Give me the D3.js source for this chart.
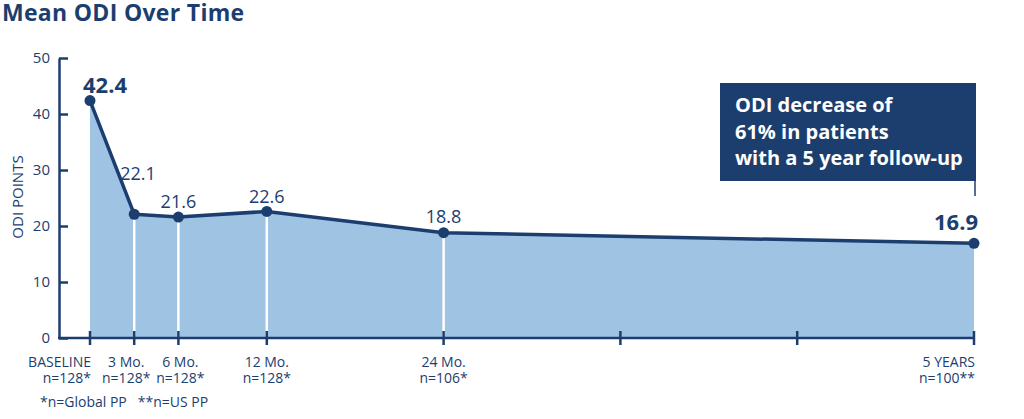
<!DOCTYPE html>
<html lang="en">

<head>
  <meta charset="UTF-8">
  <title>Mean ODI Over Time</title>
  <script src="https://d3js.org/d3.v7.min.js"></script>
  <style>
    body { margin: 0; background: #fff; }
    text { font-family: "Open Sans", sans-serif; }
  </style>
</head>

<body>
  <div id="container"></div>

  <script>
    // data
    var months = [0, 3, 6, 12, 24, 60];
    var odi = [42.4, 22.1, 21.6, 22.6, 18.8, 16.9];
    var timeLabels = ["BASELINE", "3 Mo.", "6 Mo.", "12 Mo.", "24 Mo.", "5 YEARS"];
    var nLabels = ["n=128*", "n=128*", "n=128*", "n=128*", "n=106*", "n=100**"];
    var extraTicks = [36, 48];
    var yTicks = [0, 10, 20, 30, 40, 50];
    var calloutLines = ["ODI decrease of", "61% in patients", "with a 5 year follow-up"];
    var title = "Mean ODI Over Time";
    var yTitle = "ODI POINTS";
    var footnote = "*n=Global PP   **n=US PP";

    var width = 1024,
      height = 419,
      navy = "#1c3e6e",
      fill = "#9fc3e3";

    var data = months.map(function (m, i) {
      return { month: m, value: odi[i], label: timeLabels[i], n: nLabels[i] };
    });

    var svg = d3.select("#container")
      .append("svg")
      .attr("width", width)
      .attr("height", height)

    var x = d3.scaleLinear().domain([0, 60]).range([90, 974]);
    var y = d3.scaleLinear().domain([0, 50]).range([338, 58]);
    var axisX = 59;

    // title
    svg.append("text")
      .attr("x", 2)
      .attr("y", 21)
      .attr("font-size", 23)
      .attr("font-weight", 700)
      .attr("letter-spacing", 0.3)
      .attr("fill", navy)
      .text(title)

    // area
    var area = d3.area()
      .x(function (d) { return x(d.month); })
      .y0(y(0))
      .y1(function (d) { return y(d.value); })

    svg.append("path")
      .datum(data)
      .attr("d", area)
      .attr("fill", fill)

    // white drop lines
    svg.selectAll(".drop")
      .data(data.slice(1, data.length - 1))
      .enter()
      .append("line")
      .attr("class", "drop")
      .attr("x1", function (d) { return x(d.month); })
      .attr("x2", function (d) { return x(d.month); })
      .attr("y1", function (d) { return y(d.value); })
      .attr("y2", y(0))
      .attr("stroke", "#fff")
      .attr("stroke-width", 2.5)

    // y axis
    var yAxis = svg.append("g")
      .attr("transform", "translate(" + axisX + ",0)")
      .call(d3.axisLeft(y).tickValues(yTicks).tickSizeInner(-9).tickSizeOuter(0).tickPadding(9))
    yAxis.select(".domain").attr("stroke", navy).attr("stroke-width", 2.5)
    yAxis.selectAll(".tick line").attr("stroke", navy).attr("stroke-width", 2.5)
    yAxis.selectAll(".tick text")
      .attr("font-size", 15)
      .attr("fill", navy)
      .attr("font-family", "Open Sans, sans-serif")

    svg.append("text")
      .attr("transform", "translate(23," + 197 + ") rotate(-90)")
      .attr("text-anchor", "middle")
      .attr("font-size", 15)
      .attr("fill", navy)
      .text(yTitle)

    // x axis
    svg.append("line")
      .attr("x1", axisX - 1)
      .attr("x2", x(60) + 1)
      .attr("y1", y(0))
      .attr("y2", y(0))
      .attr("stroke", navy)
      .attr("stroke-width", 2.5)

    svg.selectAll(".xtick")
      .data(months.concat(extraTicks))
      .enter()
      .append("line")
      .attr("class", "xtick")
      .attr("x1", function (d) { return x(d); })
      .attr("x2", function (d) { return x(d); })
      .attr("y1", y(0) - 7)
      .attr("y2", y(0) + 7)
      .attr("stroke", navy)
      .attr("stroke-width", 2.5)

    // tick labels, two lines each
    var last = data.length - 1;
    var labelShift = [1, -8, 2, 0, 0, 1];

    function xLabelLine(cls, yPos, field) {
      svg.selectAll("." + cls)
        .data(data)
        .enter()
        .append("text")
        .attr("class", cls)
        .attr("x", function (d, i) { return x(d.month) + labelShift[i]; })
        .attr("y", yPos)
        .attr("font-size", 14)
        .attr("fill", navy)
        .attr("text-anchor", function (d, i) {
          return (i == 0 || i == last) ? "end" : "middle";
        })
        .text(function (d) { return d[field]; })
    }
    xLabelLine("xlab", 367, "label");
    xLabelLine("nlab", 383, "n");

    svg.append("text")
      .attr("x", 40)
      .attr("y", 407)
      .attr("font-size", 14)
      .attr("fill", navy)
      .attr("xml:space", "preserve")
      .text(footnote)

    // line + dots
    var line = d3.line()
      .x(function (d) { return x(d.month); })
      .y(function (d) { return y(d.value); })

    svg.append("path")
      .datum(data)
      .attr("d", line)
      .attr("fill", "none")
      .attr("stroke", navy)
      .attr("stroke-width", 3.5)
      .attr("stroke-linejoin", "round")

    svg.selectAll(".dot")
      .data(data)
      .enter()
      .append("circle")
      .attr("class", "dot")
      .attr("cx", function (d) { return x(d.month); })
      .attr("cy", function (d) { return y(d.value); })
      .attr("r", 5.5)
      .attr("fill", navy)

    // value labels
    var labelOffsets = [
      { dx: 15, dy: -8, anchor: "middle", bold: true },
      { dx: -14, dy: -34, anchor: "start", bold: false },
      { dx: 0, dy: -9, anchor: "middle", bold: false },
      { dx: 0, dy: -8, anchor: "middle", bold: false },
      { dx: 0, dy: -10, anchor: "middle", bold: false },
      { dx: 4, dy: -13, anchor: "end", bold: true }
    ];

    svg.selectAll(".vlab")
      .data(data)
      .enter()
      .append("text")
      .attr("class", "vlab")
      .attr("x", function (d, i) { return x(d.month) + labelOffsets[i].dx; })
      .attr("y", function (d, i) { return y(d.value) + labelOffsets[i].dy; })
      .attr("text-anchor", function (d, i) { return labelOffsets[i].anchor; })
      .attr("font-size", function (d, i) { return labelOffsets[i].bold ? 22 : 18; })
      .attr("font-weight", function (d, i) { return labelOffsets[i].bold ? 700 : 400; })
      .attr("fill", navy)
      .text(function (d) { return d.value.toFixed(1); })

    // callout box
    var boxRight = x(60) + 2,
      boxLeft = 720,
      boxTop = 83,
      boxBottom = 181;

    svg.append("rect")
      .attr("x", boxLeft)
      .attr("y", boxTop)
      .attr("width", boxRight - boxLeft)
      .attr("height", boxBottom - boxTop)
      .attr("fill", navy)

    svg.append("line")
      .attr("x1", x(60) + 1)
      .attr("x2", x(60) + 1)
      .attr("y1", boxBottom)
      .attr("y2", 196)
      .attr("stroke", navy)
      .attr("stroke-width", 1.5)

    svg.selectAll(".callout")
      .data(calloutLines)
      .enter()
      .append("text")
      .attr("class", "callout")
      .attr("x", 735)
      .attr("y", function (d, i) { return 112 + i * 26.5; })
      .attr("font-size", 20)
      .attr("font-weight", 700)
      .attr("fill", "#fff")
      .text(function (d) { return d; })
  </script>
</body>

</html>
